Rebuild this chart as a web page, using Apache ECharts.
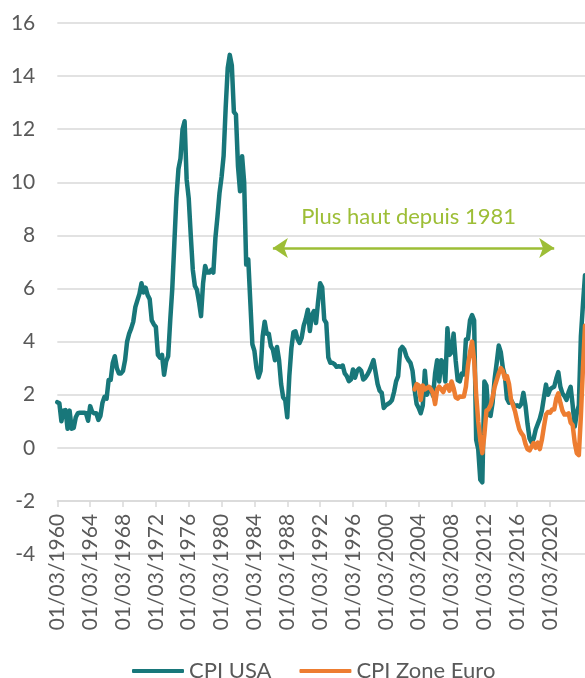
<!DOCTYPE html>
<html>
<head>
<meta charset="utf-8">
<script src="https://cdn.jsdelivr.net/npm/echarts@6/dist/echarts.min.js"></script>
<style>
html,body{margin:0;padding:0;background:#fff;}
#c{width:585px;height:678px;}
</style>
</head>
<body>
<div id="c"></div>
<script>
// Category axis: quarterly dates, a label every 16 categories
const quarterMonths = ['03', '06', '09', '12'];
const startYear = 1960;
const nCategories = 258;
const categories = [];
for (let i = 0; i < nCategories; i++) {
  categories.push('01/' + quarterMonths[i % 4] + '/' + (startYear + Math.floor(i / 4)));
}
const labelEvery = 16;
const lastLabelIndex = 240;

const seriesNames = ['CPI USA', 'CPI Zone Euro'];

// CPI USA (one value per category)
const cpiUSA = [
  1.72, 1.68, 1.0, 1.4, 1.42, 0.72, 1.4, 0.72, 0.75, 1.15,
  1.3, 1.32, 1.32, 1.32, 1.3, 1.02, 1.57, 1.35, 1.3, 1.3,
  1.05, 1.2, 1.7, 1.92, 1.85, 2.55, 2.55, 3.2, 3.45, 3.0,
  2.8, 2.8, 2.9, 3.3, 4.0, 4.3, 4.5, 4.75, 5.3, 5.55,
  5.8, 6.2, 5.85, 6.03, 5.75, 5.6, 4.8, 4.65, 4.55, 3.5,
  3.4, 3.5, 2.75, 3.25, 3.45, 4.8, 6.0, 7.7, 9.4, 10.5,
  10.9, 12.0, 12.3, 10.1, 9.4, 8.0, 6.7, 6.1, 5.95, 5.5,
  4.96, 6.2, 6.85, 6.6, 6.6, 6.7, 6.6, 7.9, 8.7, 9.6,
  10.2, 11.0, 12.8, 14.3, 14.8, 14.4, 12.65, 12.55, 10.6, 9.66,
  10.98, 10.0, 6.9, 7.1, 5.5, 3.9, 3.65, 3.0, 2.65, 2.9,
  4.2, 4.75, 4.3, 4.3, 3.83, 3.7, 3.3, 3.8, 3.3, 2.4,
  1.9, 1.8, 1.15, 2.7, 3.75, 4.35, 4.39, 4.1, 3.95, 4.14,
  4.6, 4.85, 5.2, 4.4, 5.0, 5.15, 4.7, 5.5, 6.2, 6.05,
  4.83, 4.7, 3.4, 3.2, 3.2, 3.15, 3.05, 3.07, 3.05, 3.1,
  2.8, 2.7, 2.51, 2.57, 2.95, 2.64, 2.9, 2.98, 2.9, 2.57,
  2.64, 2.75, 2.9, 3.1, 3.3, 2.85, 2.4, 2.15, 2.07, 1.5,
  1.6, 1.65, 1.7, 1.8, 2.1, 2.5, 2.7, 3.7, 3.8, 3.7,
  3.45, 3.3, 3.2, 2.9, 2.2, 1.65, 1.5, 1.3, 1.6, 2.9,
  2.0, 2.2, 2.25, 1.95, 2.8, 3.3, 2.5, 3.3, 3.2, 2.5,
  4.5, 3.5, 3.6, 4.3, 3.3, 2.55, 2.5, 2.8, 2.76, 4.08,
  4.1, 4.8, 5.0, 4.8, 0.3, -0.06, -1.2, -1.3, 2.5, 2.35,
  1.25, 1.2, 1.7, 2.6, 3.2, 3.85, 3.6, 3.0, 2.7, 1.85,
  1.7, 1.8, 1.65, 1.57, 1.6, 1.55, 1.65, 2.07, 1.6, 0.9,
  0.35, 0.2, 0.35, 0.69, 0.9, 1.1, 1.4, 1.9, 2.38, 2.0,
  2.2, 2.26, 2.3, 2.6, 2.85, 2.3, 2.05, 1.95, 1.8, 2.1,
  2.3, 1.6, 0.8, 1.3, 1.6, 4.2, 5.4, 6.5
];

// CPI Zone Euro (starts at category 174)
const euroStart = 174;
const cpiEuroValues = [
  2.2, 2.4, 2.35, 1.8, 2.35, 2.2, 2.25, 2.3, 2.2, 2.05,
  1.65, 2.2, 2.3, 2.2, 2.1, 2.3, 2.35, 2.15, 2.5, 2.25,
  1.9, 1.85, 1.93, 1.92, 1.93, 2.3, 3.1, 3.6, 4.0, 3.3,
  2.0, 1.0, 0.3, -0.2, 0.5, 1.4, 1.45, 1.6, 1.9, 2.3,
  2.55, 2.8, 3.0, 2.9, 2.6, 2.7, 2.4, 1.8, 1.6, 1.35,
  1.0, 0.7, 0.55, 0.45, 0.15, -0.05, -0.1, 0.05, 0.18, 0.0,
  0.2, -0.05, 0.3, 0.8, 1.25, 1.35, 1.32, 1.44, 1.44, 1.85,
  2.05, 1.7, 1.4, 1.25, 1.25, 1.3, 0.95, 0.85, 0.2, -0.2,
  -0.28, 1.2, 3.0, 4.6
];
const cpiEuro = [];
for (let i = 0; i < euroStart; i++) cpiEuro.push(null);
cpiEuroValues.forEach(v => cpiEuro.push(v));

// Y axis ticks
const yMin = -4, yMax = 16, yStep = 2;
const xAxisCrossAt = -2;

// Annotation
const annotationText = 'Plus haut depuis 1981';
const annotationLevel = 7.53;
const annotationFrom = 104.9;
const annotationTo = 241.6;

const FONT = 'Lato, "Open Sans", sans-serif';
const TEXT_COLOR = '#595959';
const GRID_COLOR = '#D9D9D9';
const TEAL = '#18777A';
const ORANGE = '#ED7D31';
const GREEN = '#9DBE36';

const gridTop = 23, gridBottomY = 554, chartH = 678;
const pxPerUnit = (gridBottomY - gridTop) / (yMax - yMin);

const chart = echarts.init(document.getElementById('c'), null, {renderer: 'canvas'});
chart.setOption({
  animation: false,
  backgroundColor: '#fff',
  grid: {left: 57.3, right: 0, top: gridTop, bottom: chartH - gridBottomY, containLabel: false},
  legend: {
    data: seriesNames,
    left: 127,
    top: 655,
    icon: 'roundRect',
    itemWidth: 52,
    itemHeight: 4,
    itemGap: 28,
    textStyle: {fontFamily: FONT, fontSize: 22, color: TEXT_COLOR, lineHeight: 22}
  },
  xAxis: {
    type: 'category',
    data: categories,
    boundaryGap: false,
    offset: -(xAxisCrossAt - yMin) * pxPerUnit,
    axisLine: {onZero: false, lineStyle: {color: GRID_COLOR, width: 1.5}},
    axisTick: {
      show: true, length: 6,
      interval: (idx) => idx % labelEvery === 0 && idx <= lastLabelIndex,
      lineStyle: {color: GRID_COLOR, width: 1.5}
    },
    axisLabel: {
      rotate: 90,
      margin: 13,
      interval: (idx) => idx % labelEvery === 0 && idx <= lastLabelIndex,
      fontFamily: FONT, fontSize: 21, color: TEXT_COLOR
    },
    splitLine: {show: false}
  },
  yAxis: {
    type: 'value',
    min: yMin, max: yMax, interval: yStep,
    axisLine: {show: false},
    axisTick: {show: false},
    axisLabel: {margin: 22, fontFamily: FONT, fontSize: 21, color: TEXT_COLOR},
    splitLine: {lineStyle: {color: GRID_COLOR, width: 1.5}}
  },
  series: [
    {
      name: seriesNames[0],
      type: 'line',
      data: cpiUSA,
      showSymbol: false,
      symbol: 'none',
      lineStyle: {color: TEAL, width: 4.5, join: 'round', cap: 'round'},
      itemStyle: {color: TEAL},
      z: 2,
      markLine: {
        silent: true,
        symbol: ['arrow', 'arrow'],
        symbolSize: [15, 15],
        lineStyle: {color: GREEN, width: 2.5, type: 'solid'},
        label: {
          show: true, position: 'middle', distance: 20,
          padding: [0, 10, 0, 0],
          formatter: annotationText,
          fontFamily: FONT, fontSize: 22, color: GREEN
        },
        data: [[{coord: [annotationFrom, annotationLevel]}, {coord: [annotationTo, annotationLevel]}]]
      }
    },
    {
      name: seriesNames[1],
      type: 'line',
      data: cpiEuro,
      showSymbol: false,
      symbol: 'none',
      connectNulls: false,
      lineStyle: {color: ORANGE, width: 4.5, join: 'round', cap: 'round'},
      itemStyle: {color: ORANGE},
      z: 3
    }
  ]
});
</script>
</body>
</html>
